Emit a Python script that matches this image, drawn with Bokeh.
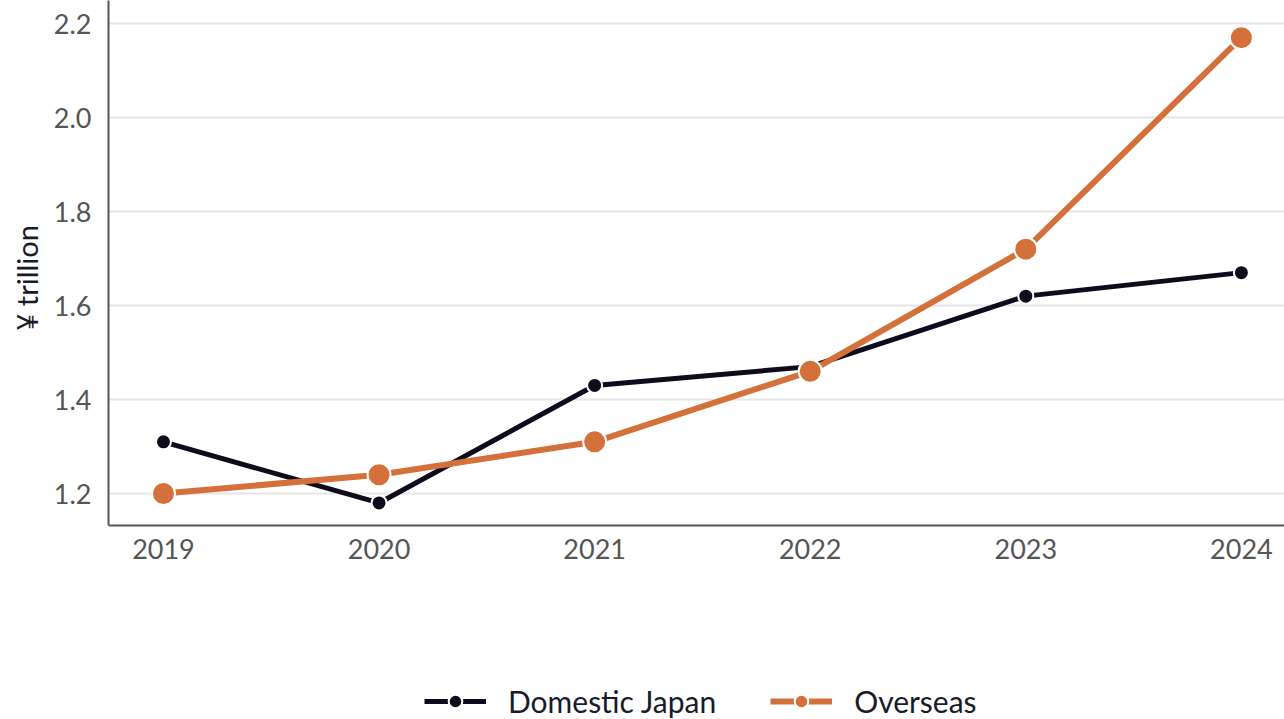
from bokeh.plotting import figure
from bokeh.models import Legend, LegendItem, Range1d, FixedTicker, NumeralTickFormatter, LinearAxis, Title
from bokeh.embed import file_html
from bokeh.resources import INLINE

years = [2019, 2020, 2021, 2022, 2023, 2024]
domestic = [1.31, 1.18, 1.43, 1.47, 1.62, 1.67]
overseas = [1.20, 1.24, 1.31, 1.46, 1.72, 2.17]
y_ticks = [1.2, 1.4, 1.6, 1.8, 2.0, 2.2]
series_names = ["Domestic Japan", "Overseas"]
y_label = "¥ trillion"
y_floor = 1.132
y_top = 2.249

FONT = "Lato"
DARK = "#0e0b1c"
ORANGE = "#d4703a"

p = figure(width=1284, height=719, output_backend="svg", toolbar_location=None,
           x_axis_location=None,
           x_range=Range1d(2018.745, 2024.2), y_range=Range1d(y_top - 719 / 470, y_top),
           min_border_left=107, min_border_right=0, min_border_top=0, min_border_bottom=0)
p.outline_line_color = None
p.background_fill_color = "white"
p.border_fill_color = "white"

l1 = p.line(years, domestic, line_color=DARK, line_width=5)
s1 = p.scatter(years, domestic, size=15, fill_color=DARK, line_color="white", line_width=2)
l2 = p.line(years, overseas, line_color=ORANGE, line_width=6)
s2 = p.scatter(years, overseas, size=23, fill_color=ORANGE, line_color="white", line_width=2)

xaxis = LinearAxis(fixed_location=y_floor, ticker=FixedTicker(ticks=years))
p.add_layout(xaxis, "below")
p.yaxis.ticker = FixedTicker(ticks=y_ticks)
p.yaxis.formatter = NumeralTickFormatter(format="0.0")
p.yaxis.bounds = (y_floor, y_top)
for ax in (xaxis, p.yaxis[0]):
    ax.axis_line_color = "#555555"
    ax.axis_line_width = 2
    ax.major_tick_line_color = None
    ax.minor_tick_line_color = None
    ax.major_label_text_font = FONT
    ax.major_label_text_font_size = "27px"
    ax.major_label_text_color = "#555555"
xaxis.major_label_standoff = 8
p.yaxis.major_label_standoff = 11

ytitle = Title(text=y_label, align="left", offset=389, standoff=13,
               text_font=FONT, text_font_size="29px", text_font_style="normal",
               text_color="#1a1a2a")
p.add_layout(ytitle, "left")

p.xgrid.grid_line_color = None
p.ygrid.grid_line_color = "#e6e6e6"
p.ygrid.grid_line_width = 2

legend = Legend(items=[LegendItem(label=series_names[0], renderers=[l1, s1]),
                       LegendItem(label=series_names[1], renderers=[l2, s2])],
                location=(316, 0), orientation="horizontal",
                label_text_font=FONT, label_text_font_size="30px", label_text_color="#1a1a2a",
                glyph_width=62, glyph_height=34, label_standoff=22, spacing=54,
                padding=2, margin=0, border_line_color=None, background_fill_alpha=0)
p.add_layout(legend)

open("out.html", "w").write(file_html(p, INLINE))
